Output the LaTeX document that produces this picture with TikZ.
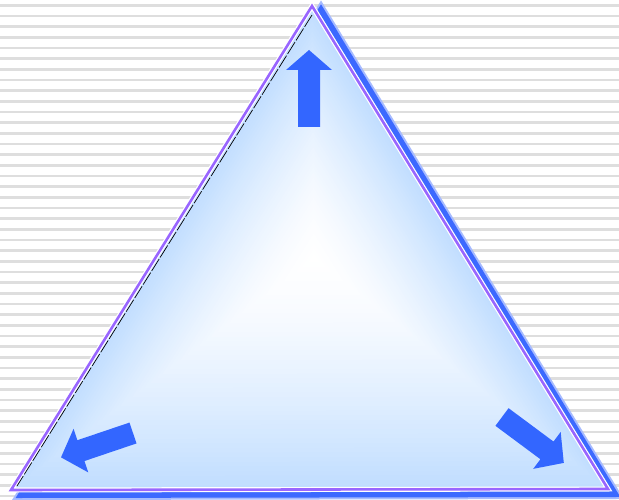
\documentclass[tikz,border=0pt]{standalone}
\usetikzlibrary{calc}

\definecolor{stripegray}{RGB}{222,222,222}
\definecolor{trifill}{RGB}{192,221,255}
\definecolor{edgepurple}{RGB}{153,102,255}
\definecolor{arrowblue}{RGB}{51,102,255}
\definecolor{shadowblue}{RGB}{60,105,255}

\begin{document}
\begin{tikzpicture}[
    x=1pt, y=-1pt,
    stripe/.style={stripegray, line width=2.6pt},
    edge/.style={edgepurple, line width=2.6pt, line join=miter},
    fatarrow/.style={fill=arrowblue}
]

\useasboundingbox (0,0) rectangle (619,500);

% Striped background
\fill[white] (0,0) rectangle (619,500);
\foreach \k in {0,...,46}
    \draw[stripe] (0,5.3+10.67*\k) -- (619,5.3+10.67*\k);

% Corners of the triangle, its shadow and its light centre
\coordinate (ta) at (312,6);
\coordinate (tb) at (11,490);
\coordinate (tc) at (608,489);
\coordinate (sa) at (321,10);
\coordinate (sb) at (21,495);
\coordinate (sc) at (615,494);
\coordinate (ia) at (312,15);
\coordinate (ib) at (17,486);
\coordinate (glow) at (314,258);

% Blurred blue shadow
\fill[shadowblue!60] (sa) -- (sb) -- (sc) -- cycle;
\draw[shadowblue!45, line width=10pt] (sa) -- (sb) -- (sc) -- cycle;
\draw[shadowblue, line width=6pt] (sa) -- (sb) -- (sc) -- cycle;

% Triangle filled from light blue edges to a white centre
\foreach \s in {1.00,0.98,...,0.01} {
    \pgfmathsetmacro{\p}{100*\s^1.5}
    \fill[trifill!\p!white] ($(glow)!\s!(ta)$) -- ($(glow)!\s!(tb)$)
        -- ($(glow)!\s!(tc)$) -- cycle;
}

% Outline
\draw[white, line width=5pt, line join=miter] (ta) -- (tb) -- (tc) -- cycle;
\draw[edge] (ta) -- (tb) -- (tc) -- cycle;
\draw[black, line width=0.7pt, dash pattern=on 14pt off 2pt] (ia) -- (ib);

% Three fat arrows
\begin{scope}[shift={(309,127)}, rotate=90]
    \fill[fatarrow] (0,-11) -- (57,-11) -- (57,-23) -- (77,0)
        -- (57,23) -- (57,11) -- (0,11) -- cycle;
\end{scope}
\begin{scope}[shift={(133,433)}, rotate=198.7]
    \fill[fatarrow] (0,-11) -- (55,-11) -- (55,-23) -- (76,0)
        -- (55,23) -- (55,11) -- (0,11) -- cycle;
\end{scope}
\begin{scope}[shift={(502,417)}, rotate=-36.6]
    \fill[fatarrow] (0,-11) -- (56,-11) -- (56,-23) -- (77,0)
        -- (56,23) -- (56,11) -- (0,11) -- cycle;
\end{scope}

\end{tikzpicture}
\end{document}
